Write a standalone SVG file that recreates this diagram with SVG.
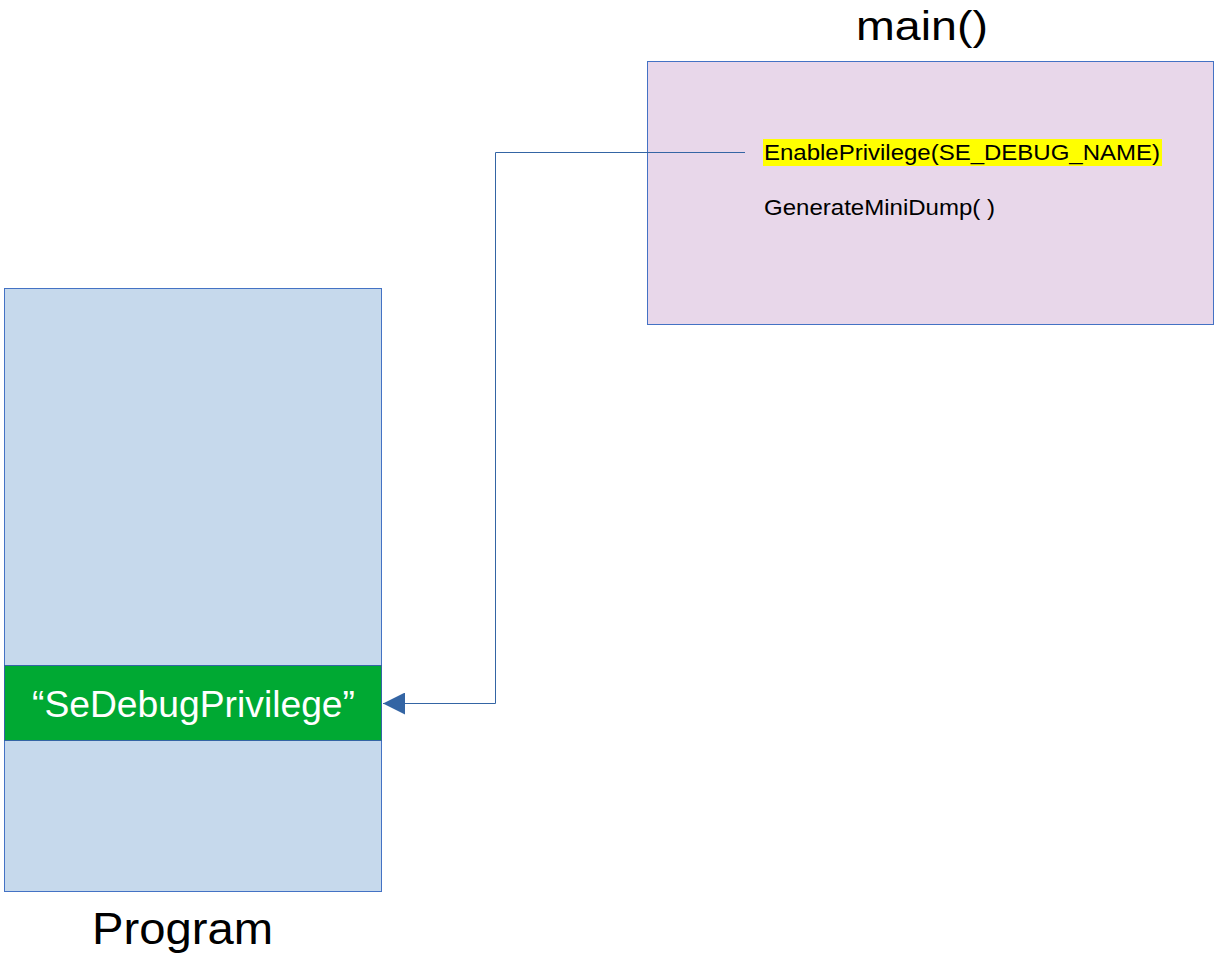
<svg xmlns="http://www.w3.org/2000/svg" width="1218" height="959" viewBox="0 0 1218 959">
<style>
text{font-family:"Liberation Sans",Arial,sans-serif}
.box{stroke:#4472c4;stroke-width:1}
.conn{fill:none;stroke:#3465a4;stroke-width:1}
</style>
<defs>
<marker id="arr" markerWidth="22" markerHeight="22" refX="22" refY="11" orient="auto" markerUnits="userSpaceOnUse" viewBox="0 0 22 22">
<path d="M0,0 L22,11 L0,22 z" fill="#3465a4"/>
</marker>
</defs>
<rect width="1218" height="959" fill="#fff"/>
<g id="main">
<text x="856" y="40" font-size="41" textLength="132" lengthAdjust="spacingAndGlyphs">main()</text>
<rect class="box" x="647.5" y="61.5" width="566" height="263" fill="#e8d7ea"/>
<rect x="763" y="139" width="399" height="27" fill="#ffff00"/>
<text x="764" y="160" font-size="22" textLength="396" lengthAdjust="spacingAndGlyphs">EnablePrivilege(SE_DEBUG_NAME)</text>
<text x="764" y="215" font-size="22" textLength="231" lengthAdjust="spacingAndGlyphs">GenerateMiniDump( )</text>
</g>
<g id="program">
<rect class="box" x="4.5" y="288.5" width="377" height="603" fill="#c6d9ec"/>
<rect x="4.5" y="665.5" width="377" height="75" fill="#00a933" stroke="#3465a4" stroke-width="1"/>
<text x="32" y="717" font-size="37" fill="#fff" textLength="323" lengthAdjust="spacingAndGlyphs">“SeDebugPrivilege”</text>
<text x="92" y="944" font-size="44" textLength="181" lengthAdjust="spacingAndGlyphs">Program</text>
</g>
<g id="connectors">
<path class="conn" d="M745,152.5 H495.5 V703.5 H383" marker-end="url(#arr)"/>
</g>
</svg>
